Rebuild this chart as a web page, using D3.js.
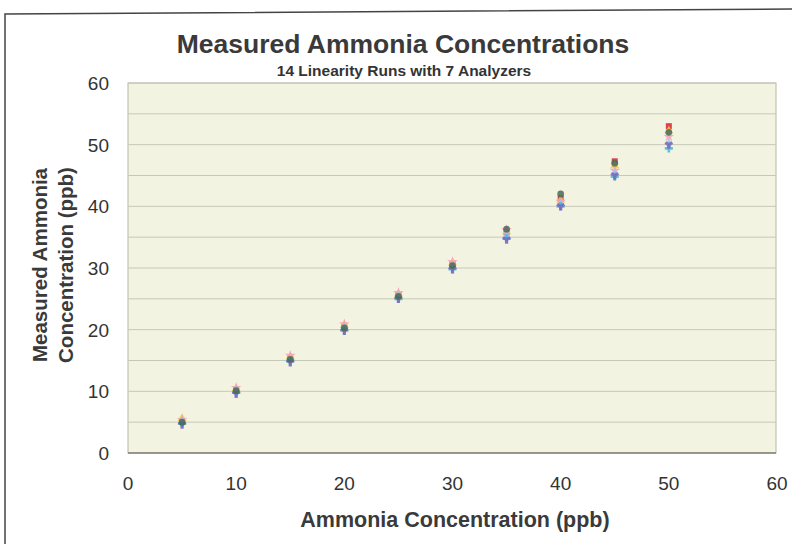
<!DOCTYPE html>
<html><head><meta charset="utf-8">
<script src="https://cdn.jsdelivr.net/npm/d3@7"></script>
<style>body{margin:0;background:#fff}svg{display:block}text{font-family:"Liberation Sans",Arial,sans-serif}</style>
</head><body>
<svg id="c" width="792" height="544"></svg>
<script>
const xValues = [5,10,15,20,25,30,35,40,45,50];
const xTicks = [0,10,20,30,40,50,60];
const yTicks = [0,10,20,30,40,50,60];
const yGrid = [0,5,10,15,20,25,30,35,40,45,50,55,60];
const seriesNames = ["Analyzer 1","Analyzer 2","Analyzer 3","Analyzer 4","Analyzer 5","Analyzer 6","Analyzer 7"];
const a1 = [5.2,10.2,15.3,20.4,25.6,30.6,35.8,41.3,47.3,53.0];
const a2 = [5.6,10.4,15.6,20.7,25.8,30.8,35.9,41.0,46.6,52.2];
const a3 = [5.4,10.6,15.8,20.9,26.0,31.0,36.2,40.8,45.8,51.3];
const a4 = [5.0,10.0,15.0,20.2,25.3,30.1,35.2,40.3,45.2,50.1];
const a5 = [4.8,9.8,14.9,19.9,25.0,29.8,34.8,40.0,44.8,49.4];
const a6 = [4.6,9.6,14.7,19.8,25.0,29.8,34.6,40.0,45.0,50.0];
const a7 = [5.0,10.1,15.2,20.3,25.4,30.4,36.3,42.0,47.0,52.0];
const seriesValues = [a1,a2,a3,a4,a5,a6,a7];
const colors = ["#d8203c","#f2d030","#f4a0b8","#8cc8f0","#40b8e0","#7a68b8","#4a6a58"];
const symbols = [d3.symbolSquare,d3.symbolTriangle,d3.symbolStar,d3.symbolDiamond,d3.symbolCross,d3.symbolWye,d3.symbolCircle];

const svg = d3.select("#c");
const L=128,R=776,T=83,B=453;
const x = d3.scaleLinear().domain([0,60]).range([L,777]);
const y = d3.scaleLinear().domain([0,60]).range([B,T]);

// outer frame
svg.append("path").attr("d","M5,544 L5,14 L792,9").attr("fill","none").attr("stroke","#444").attr("stroke-width",1.5);

// plot bg
svg.append("rect").attr("x",L).attr("y",T).attr("width",R-L).attr("height",B-T)
  .attr("fill","#f3f3e2").attr("stroke","#b8b8a8").attr("stroke-width",1);

// grid
svg.append("g").selectAll("line").data(yGrid.filter(d=>d>0)).join("line")
  .attr("x1",L).attr("x2",R).attr("y1",d=>y(d)).attr("y2",d=>y(d))
  .attr("stroke","#c8c8ba").attr("stroke-width",1);

// x axis line
svg.append("line").attr("x1",L).attr("x2",R).attr("y1",B).attr("y2",B).attr("stroke","#555").attr("stroke-width",1.2);

// tick labels
svg.append("g").selectAll("text").data(yTicks).join("text")
  .attr("x",109).attr("y",d=>y(d)+7).attr("text-anchor","end")
  .attr("font-size",19).attr("fill","#333").text(d=>d);
svg.append("g").selectAll("text").data(xTicks).join("text")
  .attr("x",d=>x(d)).attr("y",490).attr("text-anchor","middle")
  .attr("font-size",19).attr("fill","#333").text(d=>d);

// titles
svg.append("text").attr("x",403).attr("y",53).attr("text-anchor","middle")
  .attr("font-size",26.5).attr("font-weight","bold").attr("fill","#3a3a3a").text("Measured Ammonia Concentrations");
svg.append("text").attr("x",404).attr("y",76).attr("text-anchor","middle")
  .attr("font-size",15.5).attr("font-weight","bold").attr("fill","#333").text("14 Linearity Runs with 7 Analyzers");
svg.append("text").attr("x",455).attr("y",527).attr("text-anchor","middle")
  .attr("font-size",21.5).attr("font-weight","bold").attr("fill","#3a3a3a").text("Ammonia Concentration (ppb)");
const yl = svg.append("text").attr("transform","translate(0,265) rotate(-90)").attr("text-anchor","middle")
  .attr("font-size",20.5).attr("font-weight","bold").attr("fill","#3a3a3a");
yl.append("tspan").attr("x",0).attr("y",47).text("Measured Ammonia");
yl.append("tspan").attr("x",0).attr("y",73).text("Concentration (ppb)");

// points
seriesValues.forEach((vals,i)=>{
  const sym = d3.symbol().type(symbols[i]).size(36);
  svg.append("g").selectAll("path").data(vals).join("path")
    .attr("transform",(d,j)=>`translate(${x(xValues[j])},${y(d)})`)
    .attr("d",sym).attr("fill",colors[i]).attr("opacity",0.85);
});
</script>
</body></html>
